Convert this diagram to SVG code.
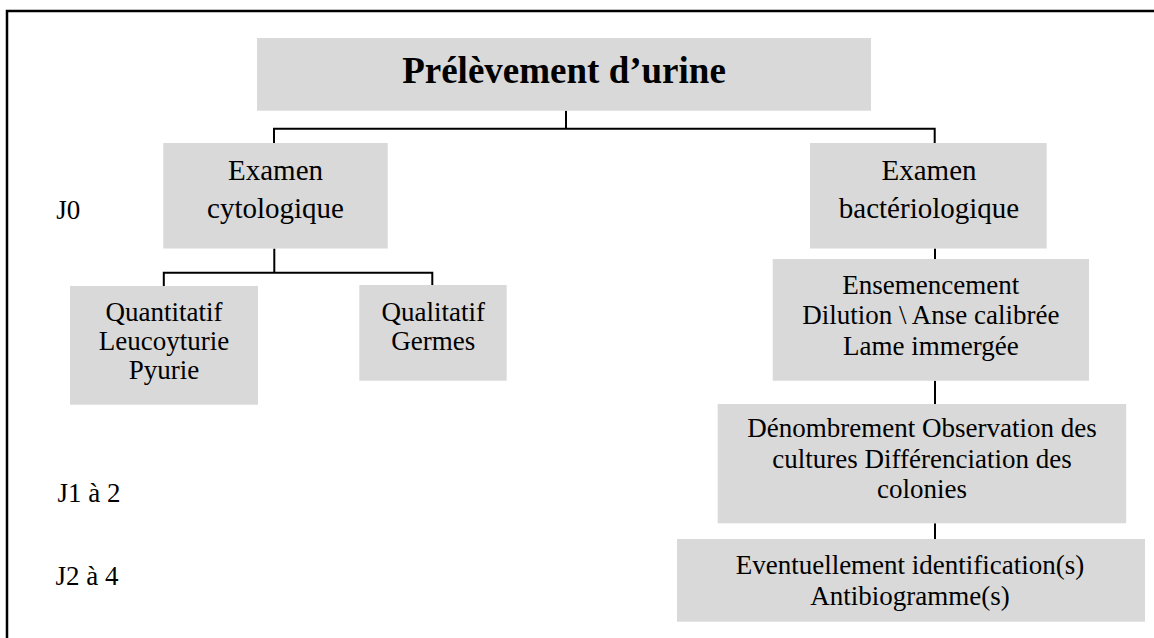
<svg xmlns="http://www.w3.org/2000/svg" width="1154" height="638" viewBox="0 0 1154 638">
<style>
.box{fill:#d9d9d9;stroke:none}
.t{font-family:"Liberation Serif","Times New Roman",serif;font-size:27px;fill:#000;text-anchor:middle}
.tx{font-size:29px}
.lab{font-family:"Liberation Serif","Times New Roman",serif;font-size:27px;fill:#000}
.title{font-family:"Liberation Serif","Times New Roman",serif;font-size:37px;font-weight:bold;fill:#000;text-anchor:middle}
.c{fill:none;stroke:#000;stroke-width:2}
</style>
<rect x="7" y="11" width="1170" height="660" fill="none" stroke="#000" stroke-width="2.5"/>
<g id="connectors">
<path class="c" d="M566,110.7 V128.7 M274,143 V128.7 H934.7 V143"/>
<path class="c" d="M274.3,248.5 V272.7 M163.8,286 V272.7 H432.3 V285"/>
<path class="c" d="M935,248.5 V259 M935,380.7 V404 M935,523.3 V539"/>
</g>
<g id="title">
<rect class="box" x="257" y="38" width="614" height="72.7"/>
<text class="title" x="564" y="82.7">Prélèvement d’urine</text>
</g>
<g id="cyto">
<rect class="box" x="163.3" y="143" width="224.4" height="105.5"/>
<text class="t tx" x="275.5" y="180">Examen</text>
<text class="t tx" x="275.5" y="217.5">cytologique</text>
</g>
<g id="bacterio">
<rect class="box" x="810" y="143" width="236.7" height="105.5"/>
<text class="t tx" x="929" y="180">Examen</text>
<text class="t tx" x="929" y="217.5">bactériologique</text>
</g>
<g id="quanti">
<rect class="box" x="70" y="286" width="188" height="118.7"/>
<text class="t" x="164" y="320.7">Quantitatif</text>
<text class="t" x="164" y="350">Leucoyturie</text>
<text class="t" x="164" y="379.3">Pyurie</text>
</g>
<g id="quali">
<rect class="box" x="359.3" y="285" width="147.4" height="95.7"/>
<text class="t" x="433.3" y="320.7">Qualitatif</text>
<text class="t" x="433.3" y="350">Germes</text>
</g>
<g id="ensemencement">
<rect class="box" x="772.7" y="259" width="316.3" height="121.7"/>
<text class="t" x="930.8" y="294">Ensemencement</text>
<text class="t" x="930.8" y="324">Dilution \ Anse calibrée</text>
<text class="t" x="930.8" y="354.7">Lame immergée</text>
</g>
<g id="denombrement">
<rect class="box" x="717.7" y="404" width="408.5" height="119.3"/>
<text class="t" x="922" y="436.7">Dénombrement Observation des</text>
<text class="t" x="922" y="467.7">cultures Différenciation des</text>
<text class="t" x="922" y="498.3">colonies</text>
</g>
<g id="identification">
<rect class="box" x="677" y="539" width="468" height="82.7"/>
<text class="t" x="910" y="573.5">Eventuellement identification(s)</text>
<text class="t" x="910" y="604.5">Antibiogramme(s)</text>
</g>
<g id="labels">
<text class="lab" x="56.3" y="219.3">J0</text>
<text class="lab" x="57.5" y="501.7">J1 à 2</text>
<text class="lab" x="55.6" y="585">J2 à 4</text>
</g>
</svg>
